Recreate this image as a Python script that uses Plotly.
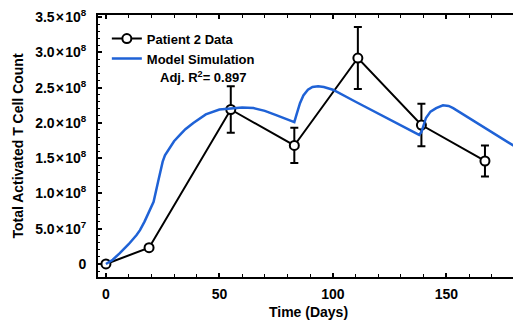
import plotly.graph_objects as go

# Patient data
data_days = [0, 19, 55, 83, 111, 139, 167]
data_vals = [0.0, 2.3e7, 2.19e8, 1.68e8, 2.92e8, 1.97e8, 1.46e8]
data_err = [0.0, 0.0, 3.3e7, 2.5e7, 4.4e7, 3.0e7, 2.2e7]

# Model simulation
model_days = [0, 3, 6, 10, 13.5, 15, 17, 19, 21, 23, 25, 26, 28, 30, 32.6, 35, 38.5, 44, 50, 55,
              60, 65, 70, 75, 80, 83, 84, 85.5, 87, 89, 91, 93.5, 96, 100, 110, 120, 130,
              138, 139, 141, 143, 145.5, 148.5, 151, 153, 160, 170, 180]
model_vals = [0.0, 0.06e8, 0.15e8, 0.28e8, 0.41e8, 0.48e8, 0.60e8, 0.74e8, 0.88e8, 1.17e8,
              1.45e8, 1.54e8, 1.64e8, 1.74e8, 1.83e8, 1.91e8, 2.00e8, 2.12e8, 2.19e8, 2.21e8,
              2.22e8, 2.21e8, 2.17e8, 2.11e8, 2.05e8, 2.01e8, 2.12e8, 2.28e8, 2.39e8, 2.47e8,
              2.51e8, 2.52e8, 2.51e8, 2.47e8, 2.30e8, 2.13e8, 1.96e8, 1.83e8, 1.87e8, 2.07e8,
              2.16e8, 2.21e8, 2.25e8, 2.24e8, 2.21e8, 2.07e8, 1.87e8, 1.67e8]

T = "\u200a×\u200a"
y_tickvals = [0, 5e7, 1e8, 1.5e8, 2e8, 2.5e8, 3e8, 3.5e8]
y_ticktext = ["0", f"5.0{T}10<sup>7</sup>", f"1.0{T}10<sup>8</sup>", f"1.5{T}10<sup>8</sup>",
              f"2.0{T}10<sup>8</sup>", f"2.5{T}10<sup>8</sup>", f"3.0{T}10<sup>8</sup>",
              f"3.5{T}10<sup>8</sup>"]
x_tickvals = [0, 50, 100, 150]

FONT = "Liberation Sans"

fig = go.Figure()
fig.add_trace(go.Scatter(
    x=data_days, y=data_vals, mode="lines+markers", name="Patient 2 Data",
    line=dict(color="black", width=2),
    marker=dict(symbol="circle", size=9, color="white", line=dict(color="black", width=2)),
    error_y=dict(type="data", array=data_err, visible=True, color="black",
                 thickness=2, width=4),
))
fig.add_trace(go.Scatter(
    x=model_days, y=model_vals, mode="lines", name="Model Simulation",
    line=dict(color="#1f62d6", width=2.5),
))

fig.add_annotation(
    x=0.249, y=0.765, xref="paper", yref="paper", showarrow=False,
    xanchor="center", yanchor="middle",
    text="Adj. R<sup>2</sup>= 0.897",
    font=dict(family=FONT, size=13, color="black", weight="bold"),
)

fig.update_layout(
    width=513, height=321,
    margin=dict(l=90, r=2, t=7, b=52, autoexpand=False),
    paper_bgcolor="white", plot_bgcolor="white",
    font=dict(family=FONT, size=13, color="black", weight="bold"),
    legend=dict(x=0.021, y=0.967, xanchor="left", yanchor="top",
                bgcolor="rgba(0,0,0,0)", itemwidth=30, tracegroupgap=0,
                font=dict(family=FONT, size=13, color="black", weight="bold")),
    xaxis=dict(
        range=[-3.5, 182], tickmode="array", tickvals=x_tickvals, automargin=False,
        ticks="inside", ticklen=4, tickwidth=1.5, tickcolor="black",
        showline=True, linecolor="black", linewidth=2, mirror="ticks",
        showgrid=False, zeroline=False, ticklabelstandoff=3,
        minor=dict(tickmode="linear", tick0=0, dtick=10, ticks="inside",
                   ticklen=3, tickcolor="black", tickwidth=1),
        title=dict(text="Time (Days)", font=dict(family=FONT, size=14, weight="bold"),
                   standoff=6),
        tickfont=dict(family=FONT, size=14, weight="bold"),
    ),
    yaxis=dict(
        range=[-1.85e7, 3.53e8], tickmode="array", tickvals=y_tickvals,
        ticktext=y_ticktext, automargin=False, ticklabeloverflow="allow",
        ticks="inside", ticklen=4, tickwidth=1.5, tickcolor="black",
        showline=True, linecolor="black", linewidth=2, mirror="ticks",
        showgrid=False, zeroline=False, ticklabelstandoff=7,
        minor=dict(tickmode="linear", tick0=0, dtick=1e7, ticks="inside",
                   ticklen=2, tickcolor="black", tickwidth=1),
        title=dict(text="Total Activated T Cell Count",
                   font=dict(family=FONT, size=14, weight="bold"), standoff=8),
        tickfont=dict(family=FONT, size=14, weight="bold"),
    ),
)

fig.write_html("out.html")
